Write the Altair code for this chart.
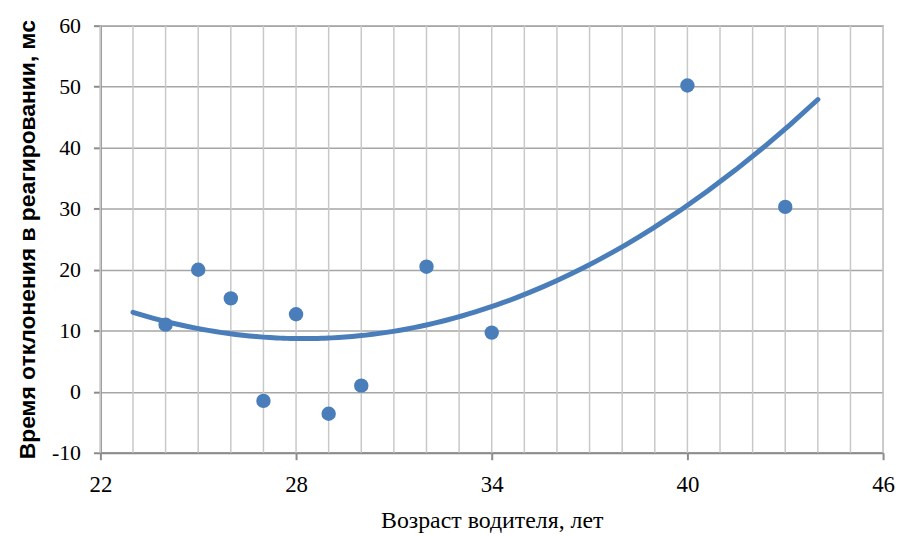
import altair as alt
import pandas as pd

ages = [24, 25, 26, 27, 28, 29, 30, 32, 34, 40, 43]
delays = [11.0, 20.0, 15.3, -1.5, 12.7, -3.6, 1.0, 20.5, 9.7, 50.2, 30.3]
x_grid = list(range(22, 47))
x_major = [22, 28, 34, 40, 46]
y_ticks = [-10, 0, 10, 20, 30, 40, 50, 60]

df = pd.DataFrame({"age": ages, "delay": delays})
grid_df = pd.DataFrame({"gx": x_grid})

BLUE = "#4a7ebb"
SERIF = "Liberation Serif"

xscale = alt.Scale(domain=[22, 46], nice=False, zero=False)
yscale = alt.Scale(domain=[-10, 60], nice=False, zero=False)

xaxis = alt.Axis(
    values=x_major,
    grid=False,
    domainColor="#8c8c8c",
    domainWidth=2,
    tickColor="#8c8c8c",
    tickWidth=2,
    tickSize=7,
    labelFont=SERIF,
    labelFontSize=23,
    labelColor="#000000",
    labelPadding=14,
    labelFlush=False,
    labelOverlap=False,
    title="Возраст водителя, лет",
    titleFont=SERIF,
    titleFontSize=24,
    titleFontWeight="normal",
    titleColor="#000000",
    titlePadding=12,
)

yaxis = alt.Axis(
    values=y_ticks,
    grid=True,
    gridColor="#a6a6a6",
    gridWidth=1.5,
    domainColor="#8c8c8c",
    domainWidth=2,
    tickColor="#8c8c8c",
    tickWidth=2,
    tickSize=7,
    labelExpr="replace(datum.label, '\u2212', '-')",
    labelFont=SERIF,
    labelFontSize=22,
    labelColor="#000000",
    labelPadding=13,
    labelFlush=False,
    labelOverlap=False,
    title="Время отклонения  в реагировании, мс",
    titleFont="Liberation Sans",
    titleFontSize=23,
    titleFontWeight="bold",
    titleColor="#000000",
    titlePadding=12,
)

vgrid = alt.Chart(grid_df).mark_rule(color="#c8c8c8", strokeWidth=1.5).encode(
    x=alt.X("gx:Q", scale=xscale, axis=xaxis),
)

points = alt.Chart(df).mark_circle(size=210, opacity=1, color=BLUE).encode(
    x=alt.X("age:Q", scale=xscale, axis=xaxis),
    y=alt.Y("delay:Q", scale=yscale, axis=yaxis),
)

trend = alt.Chart(df).transform_regression(
    "age", "delay", method="poly", order=2, extent=[23, 44]
).mark_line(color=BLUE, strokeWidth=5, strokeCap="round").encode(
    x=alt.X("age:Q", scale=xscale, axis=xaxis),
    y=alt.Y("delay:Q", scale=yscale, axis=yaxis),
)

chart = (
    alt.layer(vgrid, points, trend)
    .properties(
        width=788,
        height=430,
        autosize=alt.AutoSizeParams(type="none"),
        padding={"left": 93, "top": 16, "right": 12, "bottom": 84},
        background="white",
    )
    .configure_view(stroke="#c8c8c8", strokeWidth=1.5)
)

chart.save("out.html", embed_options={"renderer": "svg", "actions": False})
